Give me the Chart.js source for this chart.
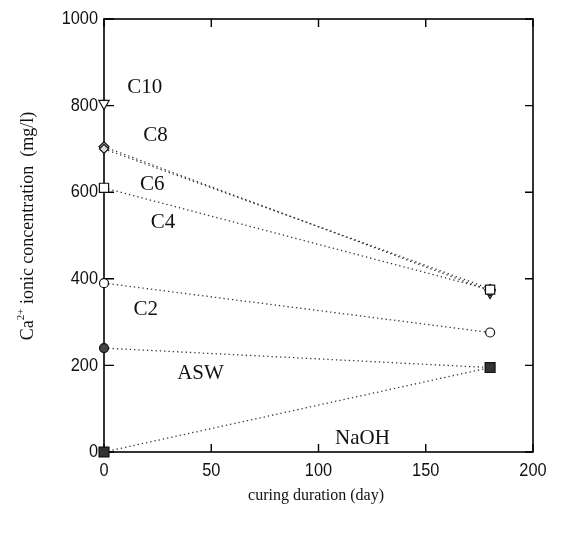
<!DOCTYPE html>
<html>
<head>
<meta charset="utf-8">
<script src="https://cdn.jsdelivr.net/npm/chart.js@4"></script>
<style>
  html, body { margin: 0; padding: 0; background: #fff; }
  #wrap { width: 562px; height: 534px; }
</style>
</head>
<body>
<div id="wrap"><canvas id="chart" width="562" height="534"></canvas></div>
<script>
// curing duration (day)
const days = [0, 180];

// Ca2+ ionic concentration (mg/l) per solution
const c10 = [805, 368];
const c8 = [705, 372];
const c6 = [700, 377];
const c4 = [610, 375];
const c2 = [390, 276];
const asw = [240, 195];
const naoh = [0, 195];

const xTicks = [0, 50, 100, 150, 200];
const yTicks = [0, 200, 400, 600, 800, 1000];

// labels drawn inside the plot [text, day, value]
const seriesLabels = [
  ["C10", 19, 842],
  ["C8", 24, 730],
  ["C6", 22.5, 618],
  ["C4", 27.5, 530],
  ["C2", 19.5, 328],
  ["ASW", 45, 182],
  ["NaOH", 120.5, 32],
];

const pts = (ys) => days.map((d, i) => ({ x: d, y: ys[i] }));

const dotLine = {
  borderColor: "#333",
  borderWidth: 1.3,
  borderDash: [1.3, 3],
  pointRadius: 4.5,
  pointBorderWidth: 1.2,
  pointBorderColor: "#111",
  showLine: true,
  clip: false,
};

const frame = {
  id: "frame",
  beforeDatasetsDraw(chart) {
    const ctx = chart.ctx;
    const a = chart.chartArea;
    const xs = chart.scales.x, ys = chart.scales.y;
    ctx.save();
    ctx.strokeStyle = "#000";
    ctx.lineWidth = 1.6;
    ctx.strokeRect(a.left, a.top, a.right - a.left, a.bottom - a.top);
    ctx.lineWidth = 1.4;
    ctx.beginPath();
    xTicks.forEach((v) => {
      const px = xs.getPixelForValue(v);
      ctx.moveTo(px, a.bottom); ctx.lineTo(px, a.bottom - 8);
      ctx.moveTo(px, a.top); ctx.lineTo(px, a.top + 8);
    });
    yTicks.forEach((v) => {
      const py = ys.getPixelForValue(v);
      ctx.moveTo(a.left, py); ctx.lineTo(a.left + 10, py);
      ctx.moveTo(a.right, py); ctx.lineTo(a.right - 8, py);
    });
    ctx.stroke();

    // tick labels (condensed sans)
    ctx.fillStyle = "#111";
    ctx.font = "19px 'Liberation Sans', Arial, sans-serif";
    ctx.textBaseline = "middle";
    yTicks.forEach((v) => {
      ctx.save();
      ctx.translate(a.left - 6, ys.getPixelForValue(v));
      ctx.scale(0.86, 1);
      ctx.textAlign = "right";
      ctx.fillText(String(v), 0, 0);
      ctx.restore();
    });
    xTicks.forEach((v) => {
      ctx.save();
      ctx.translate(xs.getPixelForValue(v), a.bottom + 19);
      ctx.scale(0.86, 1);
      ctx.textAlign = "center";
      ctx.fillText(String(v), 0, 0);
      ctx.restore();
    });

    // series labels
    ctx.textAlign = "center";
    ctx.font = "21px 'Liberation Serif', 'Times New Roman', serif";
    ctx.textBaseline = "middle";
    seriesLabels.forEach(([t, d, v]) => {
      ctx.fillText(t, xs.getPixelForValue(d), ys.getPixelForValue(v));
    });

    // axis titles
    ctx.font = "16px 'Liberation Serif', 'Times New Roman', serif";
    ctx.fillText("curing duration (day)", 316, 496);
    ctx.save();
    ctx.translate(28, 226);
    ctx.rotate(-Math.PI / 2);
    ctx.textBaseline = "middle";
    const big = "18px 'Liberation Serif', 'Times New Roman', serif";
    const small = "11px 'Liberation Serif', serif";
    const t1 = "Ca", t2 = "2+", t3 = " ionic concentration  (mg/l)";
    ctx.font = big;
    const w1 = ctx.measureText(t1).width, w3 = ctx.measureText(t3).width;
    ctx.font = small;
    const w2 = ctx.measureText(t2).width;
    const x0 = -(w1 + w2 + w3) / 2;
    ctx.textAlign = "left";
    ctx.font = big;
    ctx.fillText(t1, x0, 0);
    ctx.font = small;
    ctx.fillText(t2, x0 + w1, -7);
    ctx.font = big;
    ctx.fillText(t3, x0 + w1 + w2, 0);
    ctx.restore();
    ctx.restore();
  },
};

// first dataset is drawn on top
new Chart(document.getElementById("chart"), {
  type: "scatter",
  data: {
    datasets: [
      { ...dotLine, label: "NaOH", data: pts(naoh), pointStyle: "rect", pointRadius: 7, backgroundColor: "#333" },
      { ...dotLine, label: "ASW", data: pts(asw), pointStyle: "circle", backgroundColor: "#444" },
      { ...dotLine, label: "C2", data: pts(c2), pointStyle: "circle", backgroundColor: "#fff" },
      { ...dotLine, label: "C4", data: pts(c4), pointStyle: "rect", pointRadius: 6.5, backgroundColor: "#fff" },
      { ...dotLine, label: "C6", data: pts(c6), pointStyle: "rectRot", backgroundColor: "#ddd" },
      { ...dotLine, label: "C8", data: pts(c8), pointStyle: "rectRot", pointRadius: 5, backgroundColor: "#bbb" },
      { ...dotLine, label: "C10", data: pts(c10), showLine: false, pointStyle: "triangle", pointRadius: 6, rotation: 180, backgroundColor: "#fff" },
    ],
  },
  plugins: [frame],
  options: {
    responsive: false,
    animation: false,
    layout: { padding: { left: 104, top: 19, right: 29, bottom: 82 } },
    plugins: { legend: { display: false }, tooltip: { enabled: false } },
    scales: {
      x: { type: "linear", min: 0, max: 200, display: false },
      y: { type: "linear", min: 0, max: 1000, display: false },
    },
    elements: { point: { hitRadius: 0 } },
  },
});
</script>
</body>
</html>
